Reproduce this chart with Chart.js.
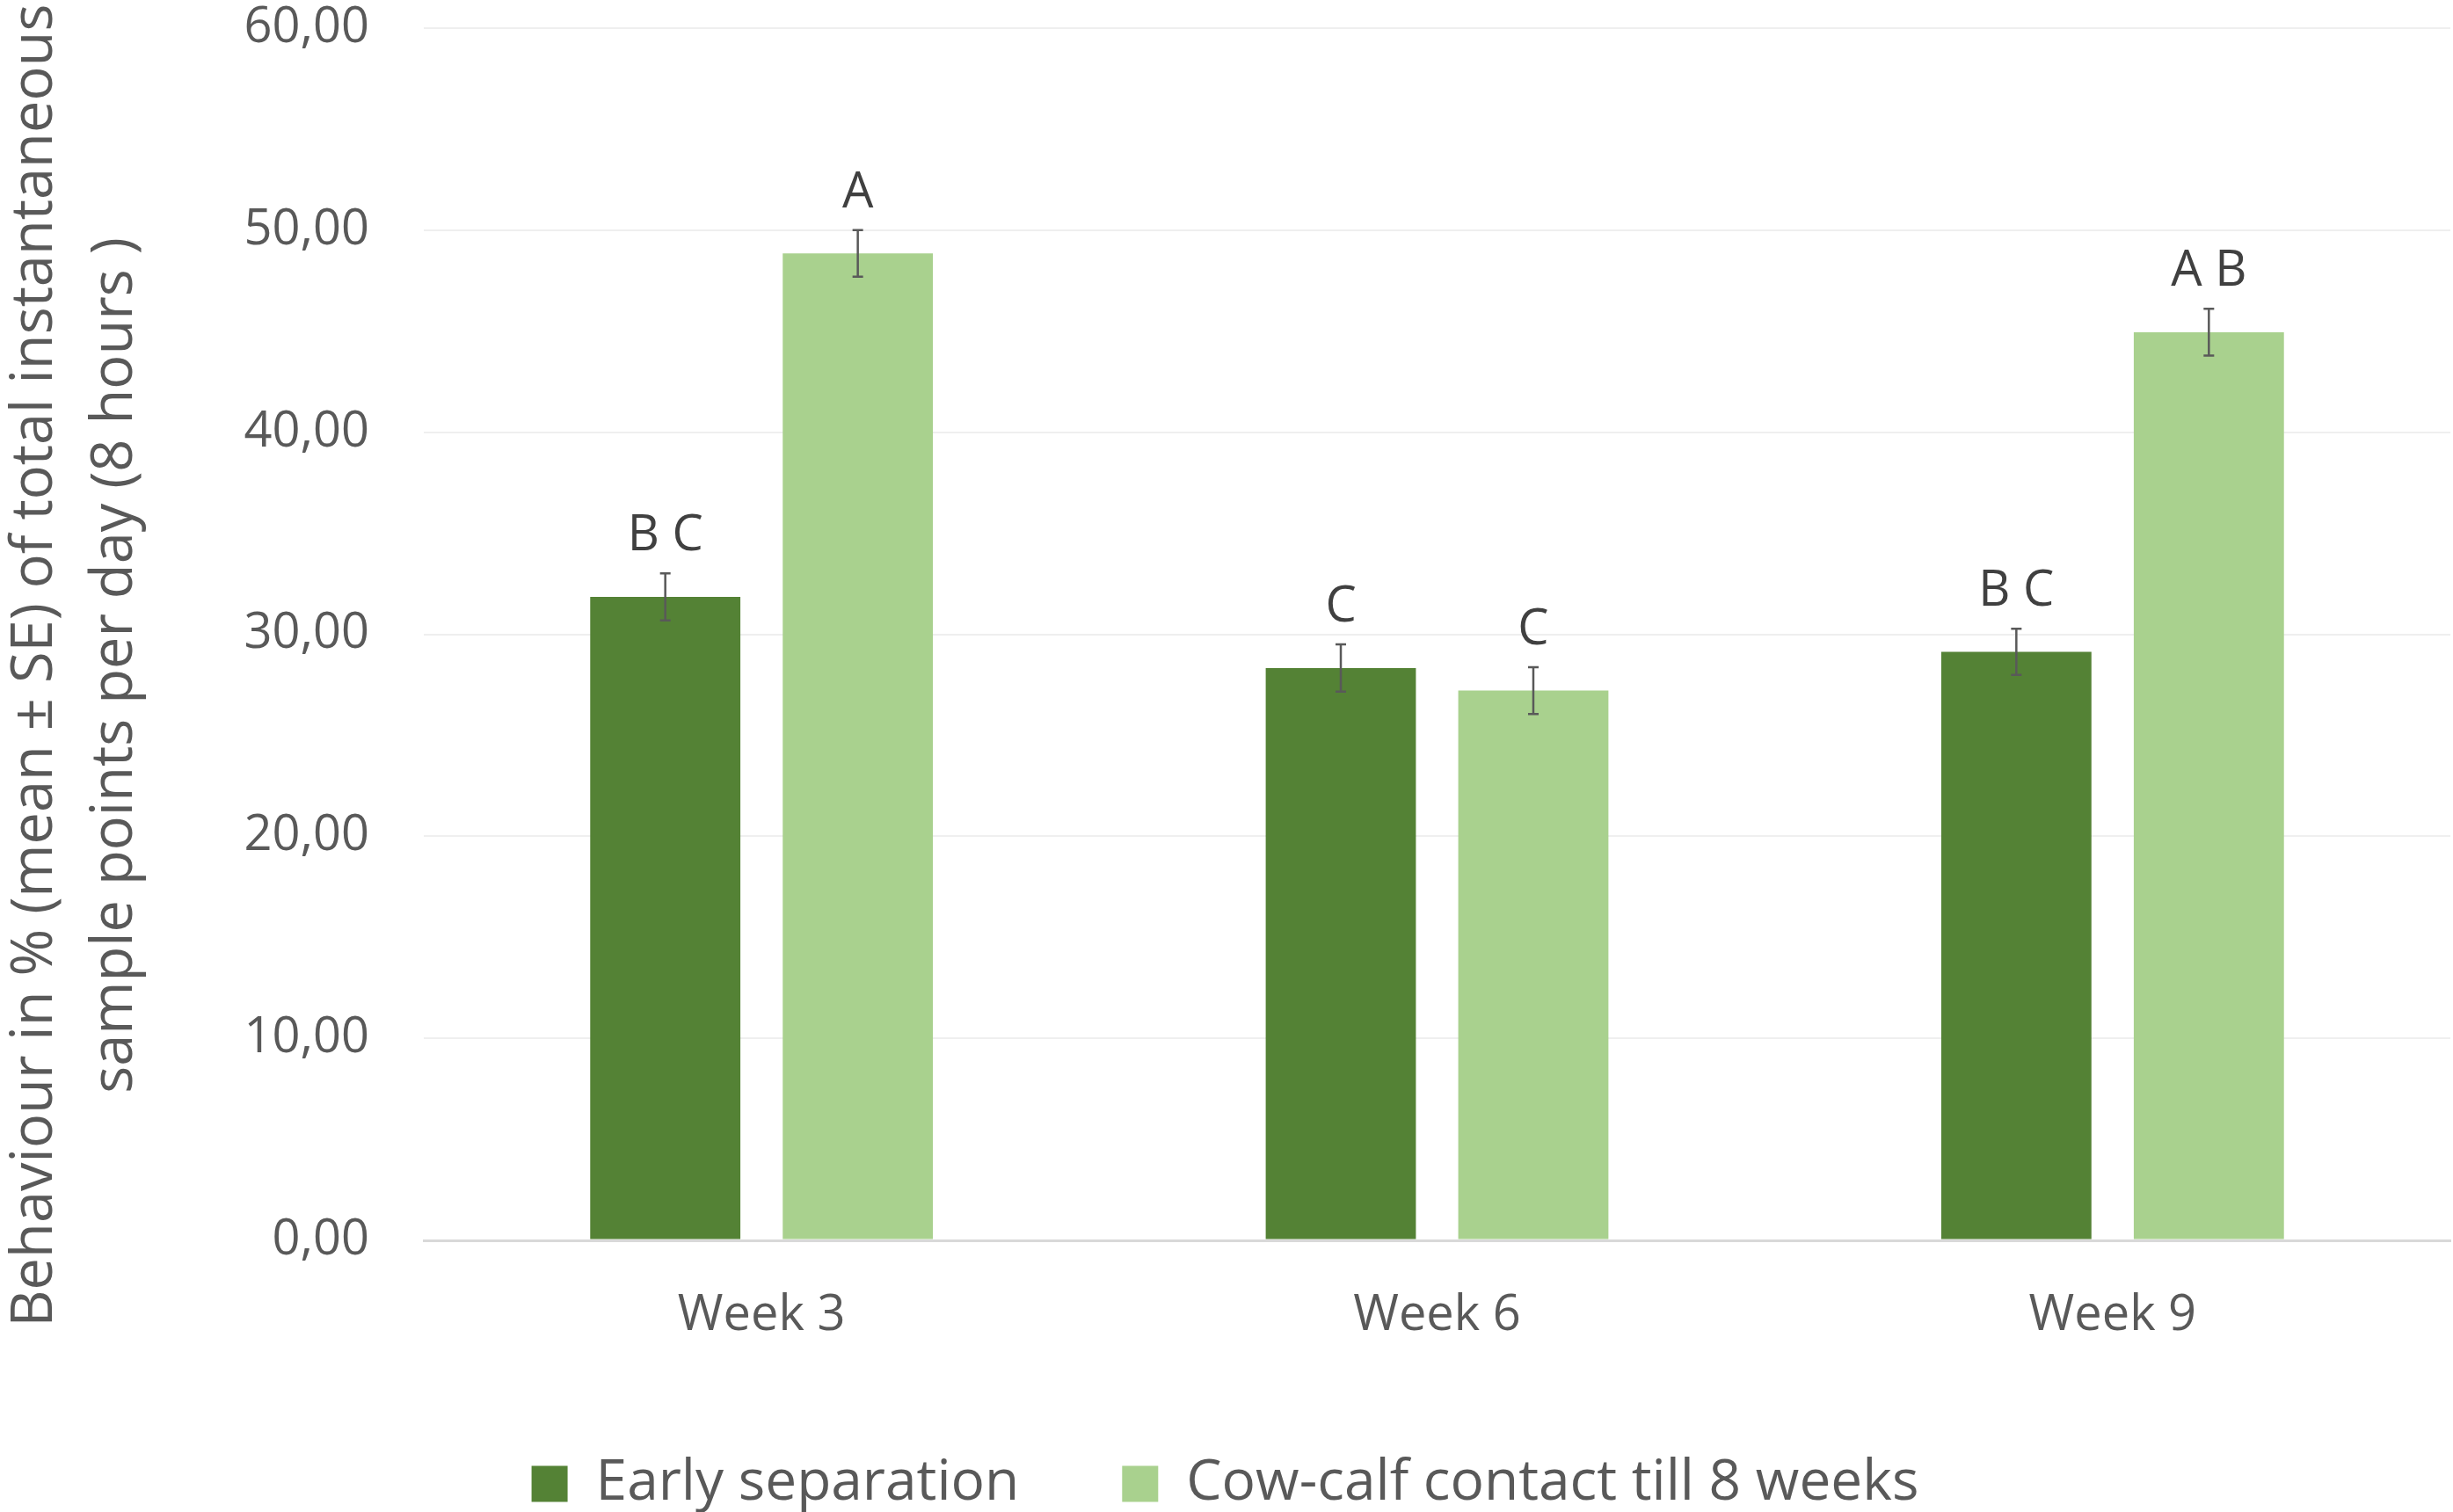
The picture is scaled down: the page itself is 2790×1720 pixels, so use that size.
<!DOCTYPE html>
<html>
<head>
<meta charset="utf-8">
<script src="https://cdn.jsdelivr.net/npm/chart.js@4/dist/chart.umd.min.js"></script>
<style>
  html, body { margin: 0; padding: 0; background: #ffffff; }
  #wrap { width: 2790px; height: 1720px; }
</style>
</head>
<body>
<div id="wrap"><canvas id="chart" width="2790" height="1720"></canvas></div>
<script>
// Weeks of observation
const categories = ['Week 3', 'Week 6', 'Week 9'];

// Mean share of sample points (%) per group, with standard errors
const earlySeparation = [31.85, 28.33, 29.13];
const earlySeparationSE = [1.16, 1.17, 1.14];
const cowCalfContact = [48.85, 27.21, 44.95];
const cowCalfContactSE = [1.15, 1.16, 1.16];

// Significance letters shown above each bar
const earlySeparationLetters = ['B C', 'C', 'B C'];
const cowCalfContactLetters = ['A', 'C', 'A B'];

const seriesNames = ['Early separation', 'Cow-calf contact till 8 weeks'];
const yTitleLines = ['Behaviour in % (mean \u00b1 SE) of total instantaneous',
                     'sample points per day (8 hours )'];

const FONT = '"Open Sans", "Noto Sans", sans-serif';
const errorSets = [earlySeparationSE, cowCalfContactSE];
const letterSets = [earlySeparationLetters, cowCalfContactLetters];

// Error bars and letters above each bar
const errorBarPlugin = {
  id: 'errorBarPlugin',
  afterDatasetsDraw(chart) {
    const { ctx } = chart;
    const y = chart.scales.y;
    chart.data.datasets.forEach((ds, di) => {
      const meta = chart.getDatasetMeta(di);
      meta.data.forEach((bar, i) => {
        const v = ds.data[i];
        const e = errorSets[di][i];
        const yHi = y.getPixelForValue(v + e);
        const yLo = y.getPixelForValue(v - e);
        const cap = 6;
        ctx.save();
        ctx.strokeStyle = '#595959';
        ctx.lineWidth = 2.5;
        ctx.beginPath();
        ctx.moveTo(bar.x, yHi); ctx.lineTo(bar.x, yLo);
        ctx.moveTo(bar.x - cap, yHi); ctx.lineTo(bar.x + cap, yHi);
        ctx.moveTo(bar.x - cap, yLo); ctx.lineTo(bar.x + cap, yLo);
        ctx.stroke();
        ctx.fillStyle = '#404040';
        ctx.font = '56px ' + FONT;
        ctx.textAlign = 'center';
        ctx.textBaseline = 'alphabetic';
        ctx.fillText(letterSets[di][i], bar.x, yHi - 26);
        ctx.restore();
      });
    });
  }
};

// Two-line rotated title for the value axis
const yTitlePlugin = {
  id: 'yTitlePlugin',
  afterDraw(chart) {
    const { ctx } = chart;
    const xs = [40, 131];
    const yc = 757;
    ctx.save();
    ctx.fillStyle = '#595959';
    ctx.font = '65px ' + FONT;
    ctx.textAlign = 'center';
    ctx.textBaseline = 'middle';
    yTitleLines.forEach((line, i) => {
      ctx.save();
      ctx.translate(xs[i], yc);
      ctx.rotate(-Math.PI / 2);
      ctx.fillText(line, 0, 0);
      ctx.restore();
    });
    ctx.restore();
  }
};

new Chart(document.getElementById('chart'), {
  type: 'bar',
  data: {
    labels: categories,
    datasets: [
      {
        label: seriesNames[0],
        data: earlySeparation,
        backgroundColor: '#548235',
        categoryPercentage: 0.57,
        barPercentage: 0.78
      },
      {
        label: seriesNames[1],
        data: cowCalfContact,
        backgroundColor: '#A9D18E',
        categoryPercentage: 0.57,
        barPercentage: 0.78
      }
    ]
  },
  options: {
    responsive: false,
    animation: false,
    devicePixelRatio: 1,
    layout: { padding: { left: 0, right: 3, top: 0, bottom: -10 } },
    plugins: {
      legend: {
        position: 'bottom',
        labels: {
          boxWidth: 41,
          boxHeight: 41,
          padding: 117,
          color: '#595959',
          font: { family: FONT, size: 64 }
        }
      },
      tooltip: { enabled: false }
    },
    scales: {
      x: {
        grid: { display: false, drawTicks: false },
        border: { display: true, color: '#d9d9d9', width: 3 },
        // band between the plot and the legend
        afterFit: (scale) => { scale.height = 128; },
        ticks: {
          color: '#595959',
          padding: 40,
          font: { family: FONT, size: 56, lineHeight: 1.643 }
        }
      },
      y: {
        min: 0,
        max: 60,
        border: { display: false },
        // room on the left for the two-line axis title
        afterFit: (scale) => { scale.width = 482; },
        grid: {
          drawTicks: true,
          tickLength: 58,
          tickColor: 'rgba(0,0,0,0)',
          color: (c) => (c.tick && c.tick.value === 0) ? '#d9d9d9' : '#efefef',
          lineWidth: (c) => (c.tick && c.tick.value === 0) ? 3 : 2
        },
        ticks: {
          stepSize: 10,
          padding: 4,
          color: '#595959',
          font: { family: FONT, size: 56, lineHeight: 1.0 },
          callback: (v) => Number(v).toFixed(2).replace('.', ',')
        }
      }
    }
  },
  plugins: [errorBarPlugin, yTitlePlugin]
});
</script>
</body>
</html>
